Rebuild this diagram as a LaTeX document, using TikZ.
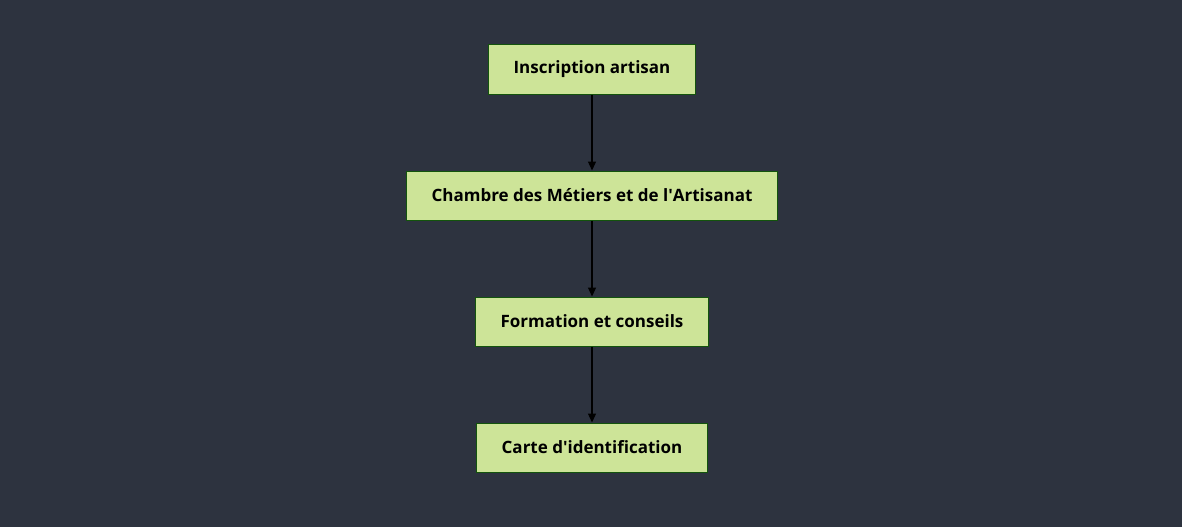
\documentclass[tikz,border=0pt]{standalone}
\usepackage{fontspec}
\setmainfont{Open Sans}
\usepackage{xcolor}
\usetikzlibrary{positioning}
\usetikzlibrary{arrows.meta}
\definecolor{bgdark}{HTML}{2D333F}
\definecolor{boxfill}{HTML}{CDE498}
\definecolor{boxline}{HTML}{13540C}

\begin{document}
\begin{tikzpicture}[x=1pt, y=1pt,
		stepbox/.style={draw=boxline, fill=boxfill, line width=1pt, minimum height=49pt, inner xsep=25pt, font=\fontsize{17pt}{20pt}\selectfont\bfseries, text=black},
		flow/.style={black, line width=1.3pt, -{Triangle[length=9pt, width=8pt]}},
		node distance=76pt]
		\fill[bgdark] (0, 0) rectangle (1182, -527);
		\useasboundingbox (0, 0) rectangle (1182, -527);
		\node[stepbox] (inscription) at (592, -69.5) {Inscription artisan};
		\node[stepbox, below=of inscription] (chambre) {Chambre des Métiers et de l\textquotesingle Artisanat};
		\node[stepbox, below=of chambre] (formation) {Formation et conseils};
		\node[stepbox, below=of formation] (carte) {Carte d\textquotesingle identification};
		\draw[flow] (inscription) -- (chambre);
		\draw[flow] (chambre) -- (formation);
		\draw[flow] (formation) -- (carte);
	\end{tikzpicture}
\end{document}
